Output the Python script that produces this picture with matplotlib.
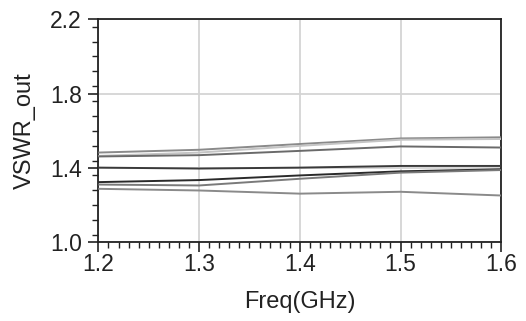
import matplotlib
matplotlib.use("Agg")
import matplotlib.pyplot as plt
from matplotlib.ticker import MultipleLocator

plt.rcParams['font.family'] = ['Liberation Sans', 'DejaVu Sans']

freq = [1.2, 1.3, 1.4, 1.5, 1.6]
series_a = [1.483, 1.498, 1.529, 1.559, 1.565]
series_b = [1.465, 1.483, 1.519, 1.552, 1.556]
series_c = [1.462, 1.469, 1.492, 1.516, 1.510]
series_d = [1.402, 1.397, 1.402, 1.411, 1.411]
series_e = [1.324, 1.335, 1.360, 1.382, 1.393]
series_f = [1.311, 1.306, 1.342, 1.375, 1.389]
series_g = [1.288, 1.279, 1.262, 1.272, 1.252]
x_ticks = [1.2, 1.3, 1.4, 1.5, 1.6]
y_ticks = [1.0, 1.4, 1.8, 2.2]

series = [
    (series_a, '#8a8a8a'),
    (series_b, '#c4c4c4'),
    (series_c, '#6a6a6a'),
    (series_d, '#3a3a3a'),
    (series_e, '#2a2a2a'),
    (series_f, '#7a7a7a'),
    (series_g, '#8a8a8a'),
]

fig = plt.figure(figsize=(5.26, 3.21), dpi=100)
ax = fig.add_axes([0.187, 0.245, 0.766, 0.695])

for vals, col in series:
    ax.plot(freq, vals, color=col, lw=1.4, solid_capstyle='butt', zorder=3)

ax.set_xlim(1.2, 1.6)
ax.set_ylim(1.0, 2.2)
ax.set_xticks(x_ticks)
ax.set_yticks(y_ticks)
ax.set_xticklabels([f"{v:.1f}" for v in x_ticks])
ax.set_yticklabels([f"{v:.1f}" for v in y_ticks])
ax.xaxis.set_minor_locator(MultipleLocator(0.01))
ax.yaxis.set_minor_locator(MultipleLocator(0.08))
ax.grid(True, which='major', color='#d4d4d4', lw=1.3, zorder=1)
ax.set_axisbelow(True)

ax.tick_params(which='major', direction='out', length=7, width=1.2, color='#222222',
               labelsize=16.5, labelcolor='#222222')
ax.tick_params(axis='x', which='major', pad=0.5)
ax.tick_params(axis='y', which='major', pad=5)
ax.tick_params(which='minor', direction='out', length=4.5, width=1.0, color='#222222')
for s in ax.spines.values():
    s.set_color('#222222')
    s.set_linewidth(1.3)

ax.set_xlabel('Freq(GHz)', fontsize=17, color='#222222')
ax.set_ylabel('VSWR_out', fontsize=17, color='#222222')
ax.xaxis.set_label_coords(0.5, -0.22)
ax.yaxis.set_label_coords(-0.155, 0.5)

fig.savefig('out.png', dpi=100)
